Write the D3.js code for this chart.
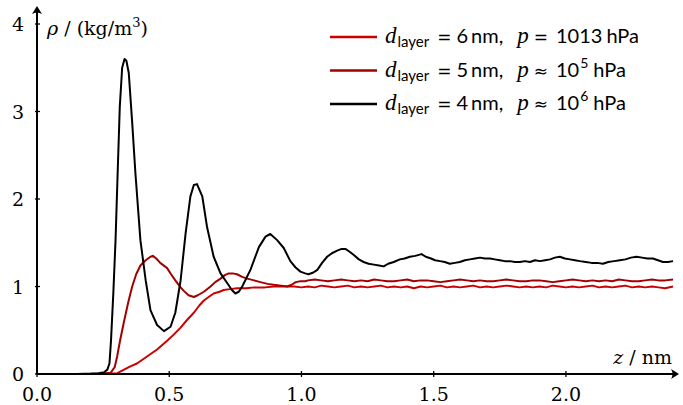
<!DOCTYPE html>
<html lang="en">
<head>
<meta charset="UTF-8">
<title>Density profiles</title>
<script src="https://cdn.jsdelivr.net/npm/d3@7"></script>
<style>
    body { margin: 0; background: #fff; }
    .tick-label { font-family: "DejaVu Serif", serif; font-size: 19px; }
    .legend { font-family: Lato, sans-serif; font-size: 20px; }
    .math { font-family: "Liberation Serif", serif; font-style: italic; font-size: 23px; }
    .rel { font-family: "DejaVu Sans", sans-serif; font-size: 17px; }
</style>
</head>
<body>
<svg id="main" width="683" height="405"></svg>
<script>
    // [z in nm, rho in kg/m^3]
    const layer6nm = [
        [0, 0], [0.254, 0], [0.284, 0.005], [0.304, 0.01], [0.329, 0.05], [0.355, 0.09],
        [0.378, 0.12], [0.416, 0.20], [0.454, 0.28], [0.492, 0.38], [0.517, 0.45], [0.543, 0.53],
        [0.568, 0.62], [0.593, 0.70], [0.613, 0.78], [0.631, 0.84], [0.649, 0.88], [0.668, 0.92],
        [0.690, 0.94], [0.706, 0.96], [0.730, 0.97], [0.756, 0.98], [0.791, 0.98], [0.821, 0.99],
        [0.862, 0.99], [0.895, 1.00], [0.933, 1.00], [0.973, 1.00], [1.000, 0.99],
        [1.025, 1.00], [1.050, 0.99], [1.075, 1.01], [1.100, 1.00], [1.125, 0.99], [1.150, 1.00],
        [1.175, 1.01], [1.200, 0.99], [1.225, 1.00], [1.250, 0.99], [1.275, 1.00], [1.300, 1.01],
        [1.325, 0.99], [1.350, 1.00], [1.375, 0.99], [1.400, 1.00], [1.425, 0.98], [1.450, 1.00],
        [1.475, 0.99], [1.500, 1.00], [1.525, 1.01], [1.550, 0.99], [1.575, 1.00], [1.600, 0.99],
        [1.625, 1.00], [1.650, 1.01], [1.675, 0.99], [1.700, 1.00], [1.725, 0.99], [1.750, 1.00],
        [1.775, 1.01], [1.800, 1.00], [1.825, 0.99], [1.850, 1.00], [1.875, 0.99], [1.900, 1.00],
        [1.925, 0.99], [1.950, 1.01], [1.975, 1.00], [2.000, 0.99], [2.025, 1.00], [2.050, 0.99],
        [2.075, 1.00], [2.100, 1.01], [2.125, 0.99], [2.150, 1.00], [2.175, 0.99], [2.200, 1.00],
        [2.225, 1.01], [2.250, 0.99], [2.275, 1.00], [2.300, 0.99], [2.325, 1.00], [2.350, 0.99],
        [2.375, 0.98], [2.405, 1.00]
    ];
    const layer5nm = [
        [0, 0], [0.203, 0], [0.254, 0.005], [0.279, 0.015], [0.294, 0.08], [0.303, 0.20],
        [0.314, 0.38], [0.329, 0.60], [0.345, 0.82], [0.360, 1.00], [0.375, 1.14], [0.391, 1.24],
        [0.411, 1.30], [0.429, 1.34], [0.438, 1.35], [0.451, 1.32], [0.466, 1.27], [0.492, 1.21],
        [0.507, 1.14], [0.523, 1.07], [0.543, 0.99], [0.555, 0.95], [0.573, 0.90], [0.593, 0.88],
        [0.608, 0.90], [0.631, 0.94], [0.656, 1.00], [0.674, 1.05], [0.694, 1.09], [0.710, 1.13],
        [0.725, 1.15], [0.740, 1.15], [0.756, 1.14], [0.776, 1.11], [0.795, 1.09], [0.821, 1.07],
        [0.845, 1.05], [0.872, 1.03], [0.895, 1.02], [0.923, 1.01], [0.946, 1.00], [0.963, 1.02],
        [0.978, 1.05], [0.996, 1.06], [1.014, 1.06],
        [1.025, 1.07], [1.050, 1.08], [1.075, 1.07], [1.100, 1.06], [1.125, 1.07], [1.150, 1.08],
        [1.175, 1.07], [1.200, 1.06], [1.225, 1.07], [1.250, 1.06], [1.275, 1.08], [1.300, 1.07],
        [1.325, 1.06], [1.350, 1.06], [1.375, 1.07], [1.400, 1.08], [1.425, 1.06], [1.450, 1.07],
        [1.475, 1.07], [1.500, 1.06], [1.525, 1.05], [1.550, 1.06], [1.575, 1.07], [1.600, 1.08],
        [1.625, 1.07], [1.650, 1.06], [1.675, 1.07], [1.700, 1.06], [1.725, 1.06], [1.750, 1.07],
        [1.775, 1.08], [1.800, 1.07], [1.825, 1.06], [1.850, 1.06], [1.875, 1.07], [1.900, 1.07],
        [1.925, 1.06], [1.950, 1.05], [1.975, 1.06], [2.000, 1.07], [2.025, 1.08], [2.050, 1.07],
        [2.075, 1.06], [2.100, 1.07], [2.125, 1.06], [2.150, 1.07], [2.175, 1.06], [2.200, 1.08],
        [2.225, 1.07], [2.250, 1.06], [2.275, 1.06], [2.300, 1.07], [2.325, 1.08], [2.350, 1.07],
        [2.375, 1.07], [2.405, 1.08]
    ];
    const layer4nm = [
        [0, 0], [0.152, 0], [0.203, 0.005], [0.233, 0.01], [0.254, 0.02], [0.266, 0.05],
        [0.274, 0.12], [0.280, 0.39], [0.289, 0.95], [0.297, 1.53], [0.305, 2.30], [0.313, 3.05],
        [0.322, 3.50], [0.331, 3.60], [0.338, 3.58], [0.347, 3.44], [0.360, 2.87], [0.372, 2.30],
        [0.391, 1.53], [0.411, 1.07], [0.429, 0.73], [0.454, 0.56], [0.480, 0.49], [0.505, 0.54],
        [0.523, 0.70], [0.543, 1.07], [0.562, 1.61], [0.580, 2.03], [0.593, 2.16], [0.605, 2.17],
        [0.625, 2.03], [0.643, 1.68], [0.668, 1.34], [0.694, 1.15], [0.719, 1.04], [0.737, 0.96],
        [0.750, 0.92], [0.763, 0.94], [0.776, 1.00], [0.807, 1.19], [0.839, 1.45], [0.864, 1.57],
        [0.882, 1.60], [0.908, 1.53], [0.933, 1.44], [0.958, 1.29], [0.977, 1.22], [0.996, 1.17],
        [1.014, 1.15], [1.027, 1.14], [1.045, 1.16], [1.060, 1.19], [1.078, 1.27], [1.097, 1.34],
        [1.115, 1.38], [1.135, 1.41], [1.152, 1.43], [1.166, 1.43], [1.181, 1.40], [1.198, 1.36],
        [1.217, 1.31], [1.235, 1.28], [1.254, 1.26], [1.274, 1.25], [1.293, 1.24], [1.311, 1.23],
        [1.328, 1.26], [1.349, 1.28], [1.372, 1.31], [1.390, 1.32], [1.410, 1.34], [1.430, 1.35],
        [1.454, 1.37], [1.470, 1.34], [1.490, 1.32], [1.505, 1.30], [1.524, 1.29], [1.542, 1.28],
        [1.561, 1.26], [1.580, 1.27], [1.599, 1.28], [1.618, 1.30], [1.637, 1.31], [1.656, 1.32],
        [1.675, 1.33], [1.694, 1.32], [1.713, 1.32], [1.731, 1.31], [1.750, 1.30], [1.769, 1.29],
        [1.788, 1.29], [1.807, 1.28], [1.826, 1.28], [1.845, 1.29], [1.864, 1.28], [1.883, 1.30],
        [1.902, 1.29], [1.921, 1.30], [1.940, 1.31], [1.958, 1.33], [1.977, 1.34], [1.996, 1.32],
        [2.015, 1.31], [2.034, 1.30], [2.053, 1.29], [2.075, 1.28], [2.097, 1.27], [2.118, 1.27],
        [2.140, 1.26], [2.160, 1.28], [2.182, 1.29], [2.204, 1.30], [2.225, 1.31], [2.246, 1.33],
        [2.267, 1.34], [2.288, 1.33], [2.308, 1.32], [2.329, 1.32], [2.348, 1.30], [2.367, 1.28],
        [2.386, 1.28], [2.405, 1.29]
    ];

    const seriesNames = ['layer6nm', 'layer5nm', 'layer4nm'];
    const seriesColors = ['#cc0000', '#a30000', '#000000'];
    const seriesData = [layer6nm, layer5nm, layer4nm];
    const xTicks = [0, 0.5, 1.0, 1.5, 2.0];
    const yTicks = [0, 1, 2, 3, 4];

    const legendThickness = ['6', '5', '4'];
    const legendRel = ['=', '≈', '≈'];
    const legendPressure = ['1013', '10', '10'];
    const legendExponent = ['', '5', '6'];

    let svg = d3.select('svg#main');

    let xScale = d3.scaleLinear().domain([0, 2.42]).range([37, 677]);
    let yScale = d3.scaleLinear().domain([0, 4]).range([374, 24]);

    let line = d3.line()
        .x(d => xScale(d[0]))
        .y(d => yScale(d[1]));

    // curves
    svg.append('g').selectAll('path')
        .data(seriesData)
        .enter()
        .append('path')
        .attr('d', line)
        .attr('fill', 'none')
        .attr('stroke', (d, i) => seriesColors[i])
        .attr('stroke-width', 2)
        .attr('stroke-linejoin', 'round');

    // axes, drawn by hand so they look like the pgfplots arrows
    let axes = svg.append('g').attr('stroke', '#000').attr('stroke-width', 2);
    axes.append('line')
        .attr('x1', xScale(0)).attr('y1', yScale(0))
        .attr('x2', 674).attr('y2', yScale(0));
    axes.append('line')
        .attr('x1', xScale(0)).attr('y1', yScale(0))
        .attr('x2', xScale(0)).attr('y2', 11);

    svg.append('path')
        .attr('d', 'M0,0 L-8,-5 Q-5,0 -8,5 Z')
        .attr('transform', 'translate(679,' + yScale(0) + ')');
    svg.append('path')
        .attr('d', 'M0,0 L-8,-5 Q-5,0 -8,5 Z')
        .attr('transform', 'translate(' + xScale(0) + ',6) rotate(-90)');

    // x ticks
    svg.append('g').selectAll('line')
        .data(xTicks)
        .enter().append('line')
        .attr('x1', d => xScale(d)).attr('x2', d => xScale(d))
        .attr('y1', yScale(0) - 3).attr('y2', yScale(0) + 3)
        .attr('stroke', '#000').attr('stroke-width', 1.3);
    svg.append('g').selectAll('text')
        .data(xTicks)
        .enter().append('text')
        .attr('class', 'tick-label')
        .attr('x', d => xScale(d))
        .attr('y', 401)
        .attr('text-anchor', 'middle')
        .text(d => d.toFixed(1));

    // y ticks
    svg.append('g').selectAll('line')
        .data(yTicks)
        .enter().append('line')
        .attr('x1', xScale(0) - 2).attr('x2', xScale(0) + 3)
        .attr('y1', d => yScale(d)).attr('y2', d => yScale(d))
        .attr('stroke', '#000').attr('stroke-width', 1.3);
    svg.append('g').selectAll('text')
        .data(yTicks)
        .enter().append('text')
        .attr('class', 'tick-label')
        .attr('x', 24)
        .attr('y', d => yScale(d) + 7)
        .attr('text-anchor', 'end')
        .text(d => d);

    // axis labels
    let yLabel = svg.append('text').attr('class', 'tick-label').attr('x', 47).attr('y', 35);
    yLabel.append('tspan').attr('font-style', 'italic').text('ρ');
    yLabel.append('tspan').text(' / (kg/m');
    yLabel.append('tspan').attr('font-size', 13).attr('dy', -8).text('3');
    yLabel.append('tspan').attr('dy', 8).text(')');

    let xLabel = svg.append('text').attr('class', 'tick-label')
        .attr('x', 672).attr('y', 364).attr('text-anchor', 'end');
    xLabel.append('tspan').attr('font-style', 'italic').text('z');
    xLabel.append('tspan').text(' / nm');

    // legend
    let legend = svg.selectAll('.legendRow').data(seriesNames)
        .enter().append('g')
        .attr('class', 'legendRow')
        .attr('transform', (d, i) => 'translate(330,' + (37 + i * 33.5) + ')');

    legend.append('line')
        .attr('x1', 0).attr('x2', 47)
        .attr('y1', 0).attr('y2', 0)
        .attr('stroke', (d, i) => seriesColors[i])
        .attr('stroke-width', 2.5);

    legend.each(function (d, i) {
        let t = d3.select(this).append('text')
            .attr('class', 'legend')
            .attr('x', 55)
            .attr('y', 6);
        t.append('tspan').attr('class', 'math').text('d');
        t.append('tspan').attr('dx', 1).attr('dy', 4).attr('font-size', 15).text('layer');
        t.append('tspan').attr('class', 'rel').attr('dx', 8).attr('dy', -4).text('=');
        t.append('tspan').attr('dx', 5).text(legendThickness[i]);
        t.append('tspan').attr('dx', 3).text('nm,');
        t.append('tspan').attr('class', 'math').attr('dx', 14).text('p');
        t.append('tspan').attr('class', 'rel').attr('dx', 5).text(legendRel[i]);
        t.append('tspan').attr('dx', 8).text(legendPressure[i]);
        if (legendExponent[i]) {
            t.append('tspan').attr('dx', 1).attr('dy', -9).attr('font-size', 14).text(legendExponent[i]);
            t.append('tspan').attr('dx', 5).attr('dy', 9).text('hPa');
        } else {
            t.append('tspan').attr('dx', 4).text('hPa');
        }
    });
</script>
</body>
</html>
